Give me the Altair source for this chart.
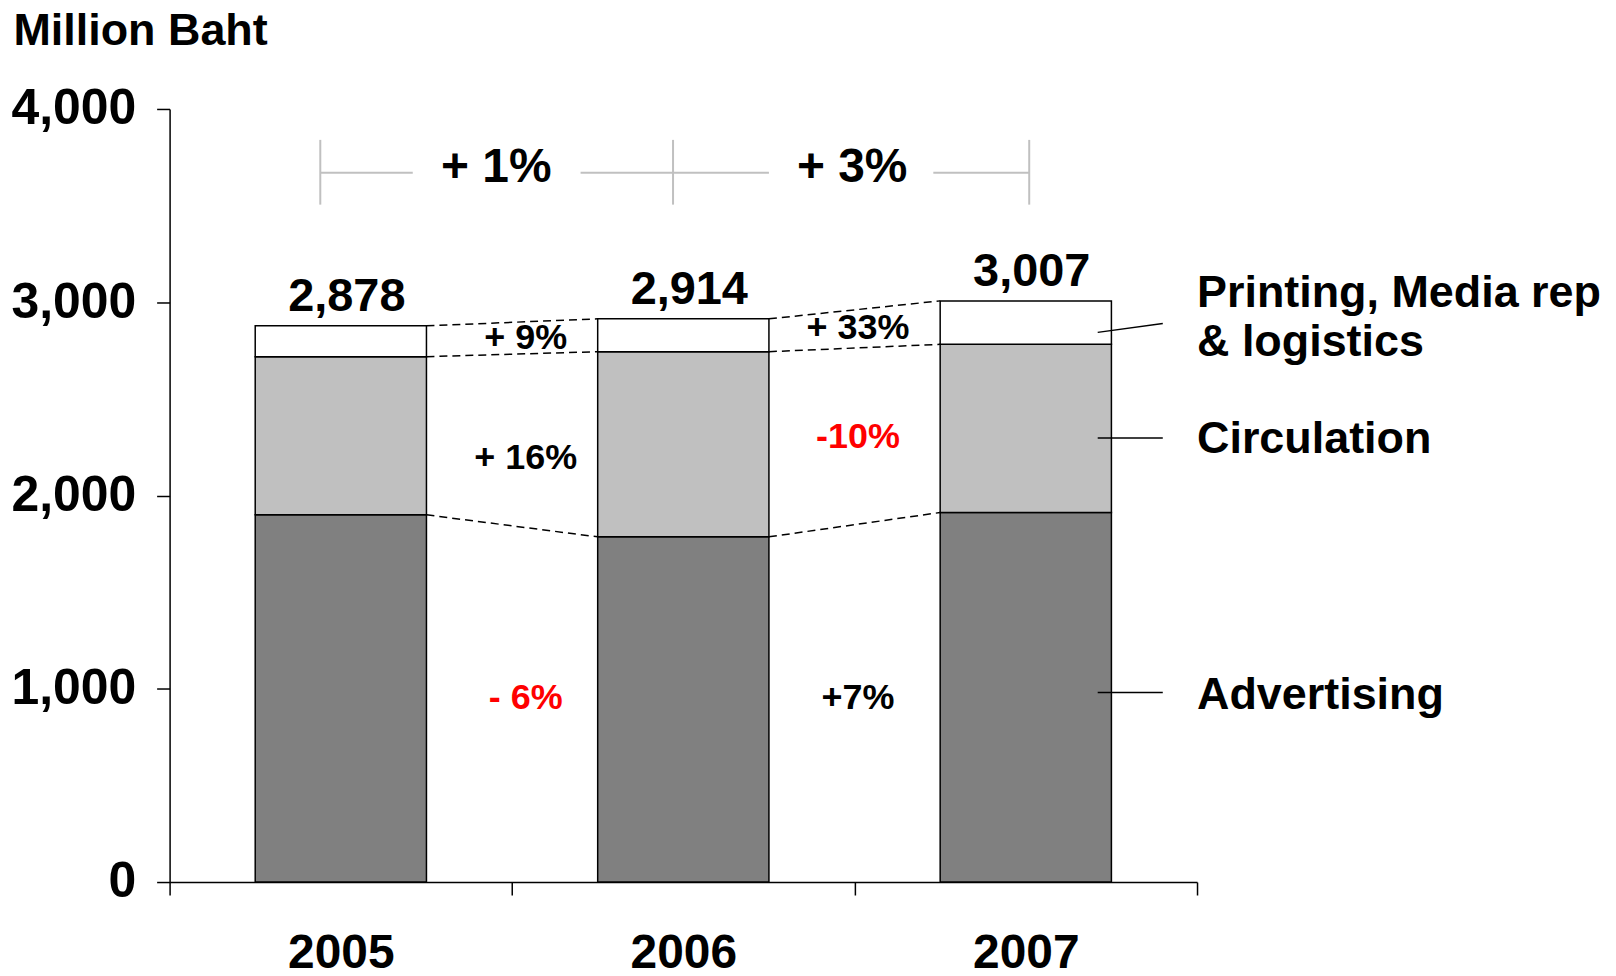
import altair as alt
import pandas as pd

# ---------------- data ----------------
years = ["2005", "2006", "2007"]
segments = ["Advertising", "Circulation", "Printing"]
advertising = [1900, 1786, 1912]
circulation = [818, 958, 870]
printing = [160, 170, 225]
seg_colors = ["#808080", "#c0c0c0", "#ffffff"]

# growth annotations between bars (bottom, middle, top segment)
growth_text = [["- 6%", "+7%"], ["+ 16%", "-10%"], ["+ 9%", "+ 33%"]]
growth_color = [["#ff0000", "#000000"], ["#000000", "#ff0000"], ["#000000", "#000000"]]
growth_y = [[951, 951], [2196, 2302], [2813, 2866]]
growth_x = [1.04, 2.01]

# overall growth bracket
total_growth_text = ["+ 1%", "+ 3%"]
total_growth_x = [0.954, 1.993]
total_growth_y = 3695
bracket_ticks_x = [0.44, 1.47, 2.51]
bracket_tick_y = [3505, 3840]
bracket_segments = [(0.44, 0.71), (1.20, 1.75), (2.23, 2.51)]
bracket_y = 3670

# right-hand labels with leader lines
legend_text = ["Printing, Media rep", "& logistics", "Circulation", "Advertising"]
legend_y = [3050, 2792, 2292, 970]
legend_x = 3.0
leaders = [(2.71, 2844, 2.90, 2890), (2.71, 2297, 2.90, 2297), (2.71, 981, 2.90, 981)]

FONT = "Liberation Sans"

# ---------------- tables ----------------
series = [advertising, circulation, printing]
bar_rows = []
tops = [[0] * len(years) for _ in segments]
for i, yr in enumerate(years):
    base = 0
    for k, seg in enumerate(segments):
        v = series[k][i]
        bar_rows.append(dict(year=yr, seg=seg, x0=i + 0.25, x1=i + 0.75, y0=base, y1=base + v))
        base += v
        tops[k][i] = base
bars_df = pd.DataFrame(bar_rows)

conn_rows = []
for k in range(len(segments)):
    for i in range(len(years) - 1):
        conn_rows.append(dict(x0=i + 0.75, x1=i + 1.25, y0=tops[k][i], y1=tops[k][i + 1]))
conn_df = pd.DataFrame(conn_rows)

totals = tops[-1]
tot_df = pd.DataFrame(dict(x0=[i + 0.5 for i in range(len(years))], y0=totals,
                           label=[f"{t:,}" for t in totals]))

g_rows = []
for k in range(3):
    for j in range(2):
        g_rows.append(dict(x0=growth_x[j], y0=growth_y[k][j], label=growth_text[k][j], col=growth_color[k][j]))
g_df = pd.DataFrame(g_rows)

tg_df = pd.DataFrame(dict(x0=total_growth_x, y0=[total_growth_y] * 2, label=total_growth_text))
bt_df = pd.DataFrame(dict(x0=bracket_ticks_x, x1=bracket_ticks_x,
                          y0=[bracket_tick_y[0]] * 3, y1=[bracket_tick_y[1]] * 3))
bs_df = pd.DataFrame(dict(x0=[s[0] for s in bracket_segments], x1=[s[1] for s in bracket_segments],
                          y0=[bracket_y] * 3, y1=[bracket_y] * 3))
leg_df = pd.DataFrame(dict(x0=[legend_x] * 4, y0=legend_y, label=legend_text))
lead_df = pd.DataFrame(dict(x0=[l[0] for l in leaders], y0=[l[1] for l in leaders],
                            x1=[l[2] for l in leaders], y1=[l[3] for l in leaders]))
title_df = pd.DataFrame(dict(x0=[-0.456], y0=[4405], label=["Million Baht"]))

# ---------------- scales / axes ----------------
year_list = "[" + ",".join(f"'{y}'" for y in years) + "]"
xscale = alt.Scale(domain=[0, 3], nice=False, zero=False)
yscale = alt.Scale(domain=[0, 4000], nice=False)
xaxis = alt.Axis(
    values=[0, 0.5, 1, 1.5, 2, 2.5, 3], title=None, grid=False,
    domainColor="black", domainWidth=1.5, tickColor="black", tickWidth=1.5, tickSize=13,
    tickOpacity={"condition": {"test": "datum.value % 1 === 0", "value": 1}, "value": 0},
    labelExpr=f"datum.value % 1 === 0 ? '' : {year_list}[floor(datum.value)]",
    labelFont=FONT, labelFontWeight="bold", labelFontSize=48, labelColor="black",
    labelPadding=59, labelBaseline="middle", labelOverlap=False, labelFlush=False, labelBound=False,
)
yaxis = alt.Axis(
    values=[0, 1000, 2000, 3000, 4000], format=",d", title=None, grid=False,
    domainColor="black", domainWidth=1.5, tickColor="black", tickWidth=1.5, tickSize=13,
    labelFont=FONT, labelFontWeight="bold", labelFontSize=50, labelColor="black",
    labelPadding=21, labelOverlap=False, labelFlush=False, labelBound=False,
)


def X(f):
    return alt.X(f, type="quantitative", scale=xscale, axis=xaxis)


def Y(f):
    return alt.Y(f, type="quantitative", scale=yscale, axis=yaxis)


bars = alt.Chart(bars_df).mark_bar(stroke="black", strokeWidth=1.5).encode(
    x=X("x0"), x2=alt.X2("x1"), y=Y("y0"), y2=alt.Y2("y1"),
    color=alt.Color("seg:N", scale=alt.Scale(domain=segments, range=seg_colors), legend=None),
)

conns = alt.Chart(conn_df).mark_rule(color="black", strokeWidth=1.5, strokeDash=[8, 5]).encode(
    x=X("x0"), x2=alt.X2("x1"), y=Y("y0"), y2=alt.Y2("y1"))

tot_text = alt.Chart(tot_df).mark_text(font=FONT, fontWeight="bold", fontSize=47, dy=-15, dx=6,
                                       baseline="alphabetic", color="black").encode(
    x=X("x0"), y=Y("y0"), text="label:N")

g_text = alt.Chart(g_df).mark_text(font=FONT, fontWeight="bold", fontSize=36, baseline="middle").encode(
    x=X("x0"), y=Y("y0"), text="label:N", color=alt.Color("col:N", scale=None))

tg_text = alt.Chart(tg_df).mark_text(font=FONT, fontWeight="bold", fontSize=48, baseline="middle",
                                     color="black").encode(x=X("x0"), y=Y("y0"), text="label:N")

bt = alt.Chart(bt_df).mark_rule(color="#c0c0c0", strokeWidth=2).encode(
    x=X("x0"), x2=alt.X2("x1"), y=Y("y0"), y2=alt.Y2("y1"))
bs = alt.Chart(bs_df).mark_rule(color="#c0c0c0", strokeWidth=2).encode(
    x=X("x0"), x2=alt.X2("x1"), y=Y("y0"), y2=alt.Y2("y1"))

leg = alt.Chart(leg_df).mark_text(font=FONT, fontWeight="bold", fontSize=45, align="left",
                                  baseline="middle", color="black").encode(
    x=X("x0"), y=Y("y0"), text="label:N")
lead = alt.Chart(lead_df).mark_rule(color="black", strokeWidth=1.5).encode(
    x=X("x0"), x2=alt.X2("x1"), y=Y("y0"), y2=alt.Y2("y1"))

title = alt.Chart(title_df).mark_text(font=FONT, fontWeight="bold", fontSize=45, align="left",
                                      baseline="middle", color="black").encode(
    x=X("x0"), y=Y("y0"), text="label:N")

chart = alt.layer(bars, conns, tot_text, g_text, bt, bs, tg_text, lead, leg, title).properties(
    width=1030, height=775,
    autosize=alt.AutoSizeParams(type="none"),
    padding={"left": 162, "top": 100, "right": 412, "bottom": 100},
    background="white",
).configure_view(stroke=None)

chart.save("out.html", embed_options={"renderer": "svg", "actions": False})
